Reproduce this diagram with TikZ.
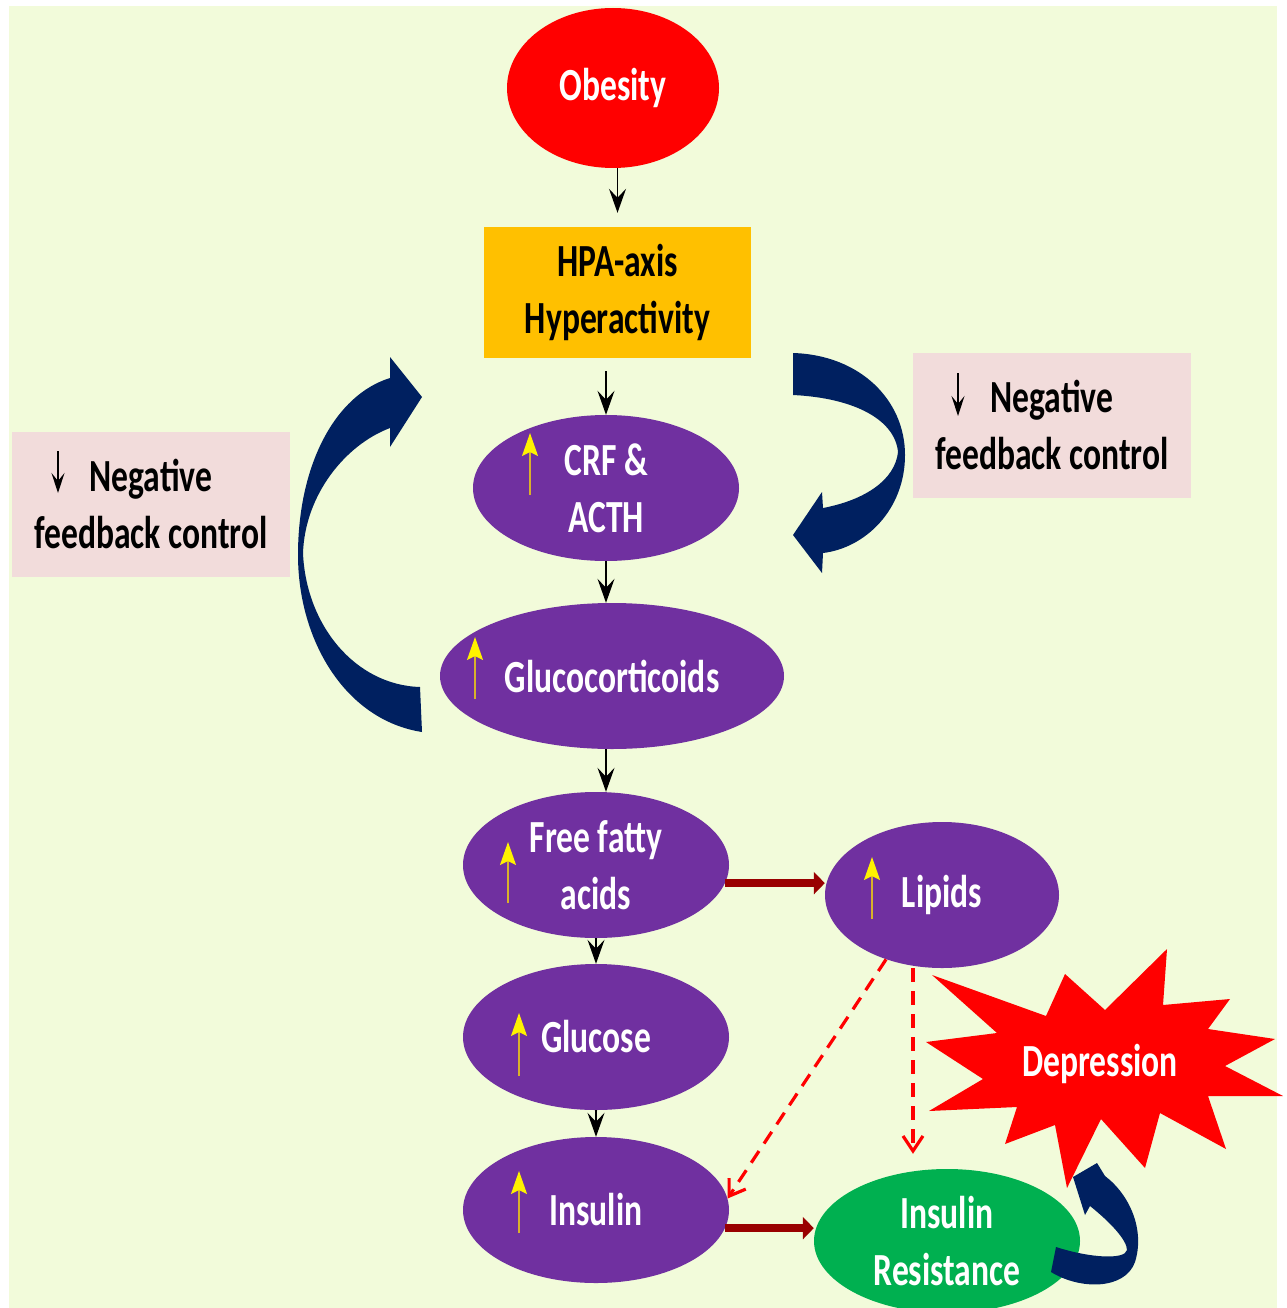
\documentclass[tikz,border=0pt]{standalone}
\usepackage{fontspec}
\setmainfont{Carlito}
\newfontfamily\lbl{Carlito}[FakeStretch=0.73]
\usetikzlibrary{shapes.geometric,arrows.meta,calc}
\definecolor{bg}{HTML}{F2FBDA}
\definecolor{purp}{HTML}{7030A0}
\definecolor{amber}{HTML}{FFC000}
\definecolor{leaf}{HTML}{00B050}
\definecolor{navy}{HTML}{002060}
\definecolor{blush}{HTML}{F2DCDB}
\definecolor{maroon}{HTML}{990000}
\definecolor{gold}{HTML}{D9B22A}
\begin{document}
\begin{tikzpicture}[x=1pt,y=-1pt,
  txt/.style={font=\lbl\bfseries\fontsize{46}{57}\selectfont, align=center, inner sep=0pt},
  oval/.style={txt, ellipse, fill=purp, text=white, minimum width=266pt, minimum height=146pt},
  flow/.style={draw=black, line width=1.4pt, -{Stealth[length=24pt,width=17pt,inset=9pt]}},
  fat/.style={draw=maroon, line width=8pt, -{Triangle[length=11pt,width=22pt]}},
  hint/.style={draw=red, line width=3.2pt, dash pattern=on 14pt off 9pt, -{Straight Barb[length=15pt,width=20pt]}},
  rise/.style={draw=gold, line width=1.8pt, -{Stealth[length=23pt,width=16pt,inset=4pt,color=yellow]}},
  fall/.style={draw=black, line width=1.3pt, -{Stealth[length=20pt,width=13pt,inset=8pt]}},
  note/.style={txt, fill=blush, minimum width=278pt, minimum height=145pt},
]
% canvas
\useasboundingbox (0,0) rectangle (1286,1308);
\fill[white] (0,0) rectangle (1286,1308);
\fill[bg] (9,6) rectangle (1277,1308);

% feedback arrows
\fill[navy] (422,732) .. controls (345,720) and (298,640) .. (298,555)
  .. controls (298,465) and (335,395) .. (390,378) -- (390,357) -- (422,397)
  -- (390,447) -- (390,428) .. controls (345,445) and (305,495) .. (303,553)
  .. controls (306,625) and (355,685) .. (420,687) -- cycle;
\fill[navy] (793,353) .. controls (860,355) and (905,400) .. (905,455)
  .. controls (905,510) and (865,548) .. (823,553) -- (822,573) -- (793,535)
  -- (822,492) -- (823,508) .. controls (865,500) and (895,480) .. (898,452)
  .. controls (895,420) and (855,398) .. (793,395) -- cycle;

% nodes
\node[txt, ellipse, fill=red, text=white, minimum width=212pt, minimum height=160pt] (obesity) at (613,88) {Obesity};
\node[txt, fill=amber, minimum width=267pt, minimum height=131pt] (hpa) at (617.5,292.5) {HPA-axis\\Hyperactivity};
\node[oval] (crf) at (606,488) {CRF \&\\ACTH};
\node[oval, minimum width=344pt] (gluco) at (612,676) {Glucocorticoids};
\node[oval] (ffa) at (596,865) {Free fatty\\acids};
\node[oval] (glucose) at (596,1037) {Glucose};
\node[oval] (insulin) at (596,1210) {Insulin};
\node[oval, minimum width=234pt] (lipids) at (942,895) {Lipids};
\node[oval, fill=leaf, minimum height=144pt] (ir) at (947,1241) {Insulin\\Resistance};
\node[note] (fbright) at (1052,425) {Negative\\feedback control};
\node[note] (fbleft) at (151,504) {Negative\\feedback control};

% depression burst
\fill[red] (932,975) -- (1046,1016) -- (1065,974) -- (1105,1010) -- (1167,949)
  -- (1163,1005) -- (1230,999) -- (1208,1029) -- (1275,1039) -- (1225,1066)
  -- (1283,1096) -- (1208,1096) -- (1226,1149) -- (1160,1113) -- (1145,1168)
  -- (1101,1119) -- (1067,1188) -- (1055,1125) -- (1005,1144) -- (1017,1107)
  -- (929,1111) -- (983,1079) -- (926,1042) -- (997,1033) -- cycle;
\node[txt, text=white] (depression) at (1100,1064) {Depression};

% main chain
\draw[flow, shorten >=14pt] (obesity.south -| hpa.north) -- (hpa.north);
\draw[flow, shorten <=13pt] (hpa.south -| crf.north) -- (crf.north);
\draw[flow] (crf.south) -- (crf.south |- gluco.north);
\draw[flow] (gluco.south -| crf.south) -- (ffa.north -| crf.south);
\draw[flow] (ffa.south) -- (glucose.north);
\draw[flow] (glucose.south) -- (insulin.north);

% side effects
\draw[fat] (ffa.-8) -- (ffa.-8 -| lipids.west);
\draw[fat] (insulin.-8) -- (insulin.-8 -| ir.west);
\draw[hint] (lipids.229) -- (insulin.5);
\draw[hint] ($(lipids.south)+(-29,0)$) -- ($(ir.north)+(-34,-15)$);

% insulin resistance feeds depression
\fill[navy] (1056,1247) -- (1051,1272) .. controls (1080,1290) and (1125,1290) .. (1135,1262)
  .. controls (1145,1230) and (1130,1195) .. (1105,1176) -- (1097,1163) -- (1073,1177)
  -- (1085,1215) -- (1090,1206) .. controls (1110,1222) and (1127,1240) .. (1127,1250)
  .. controls (1125,1260) and (1090,1258) .. (1056,1247) -- cycle;

% increase markers
\draw[rise] ($(crf)+(-76,7)$) -- ++(0,-62);
\draw[rise] ($(gluco)+(-137,23)$) -- ++(0,-62);
\draw[rise] ($(ffa)+(-88,38)$) -- ++(0,-61);
\draw[rise] ($(glucose)+(-77,39)$) -- ++(0,-63);
\draw[rise] ($(insulin)+(-77,23)$) -- ++(0,-62);
\draw[rise] ($(lipids)+(-70,24)$) -- ++(0,-62);

% decrease markers
\draw[fall] ($(fbright)+(-94,-52)$) -- ++(0,43);
\draw[fall] ($(fbleft)+(-93,-53)$) -- ++(0,42);
\end{tikzpicture}
\end{document}
